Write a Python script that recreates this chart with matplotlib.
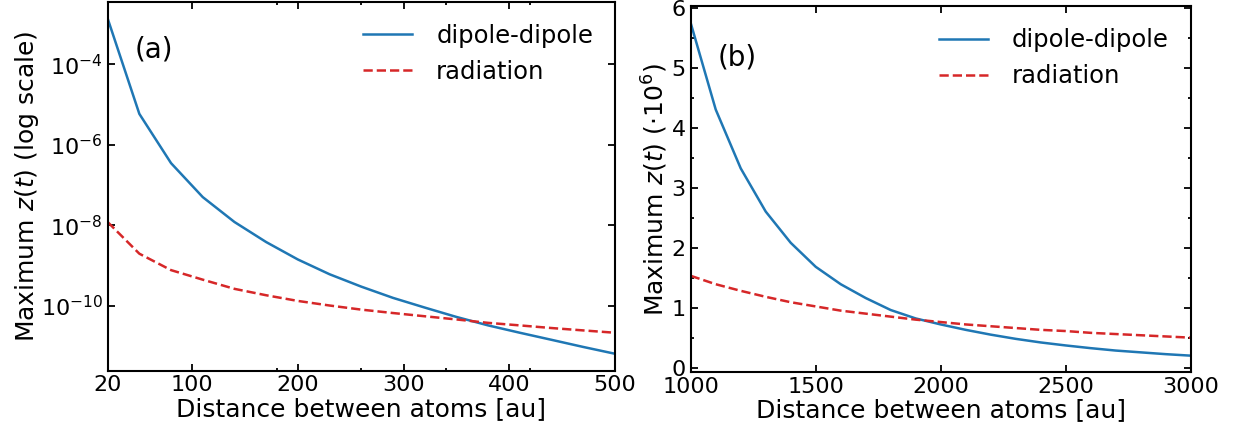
import numpy as np
import matplotlib
matplotlib.use('Agg')
import matplotlib.pyplot as plt
from matplotlib.ticker import FixedLocator, NullLocator, AutoMinorLocator

plt.rcParams['font.family'] = ['DejaVu Sans']
plt.rcParams['axes.linewidth'] = 1.5
plt.rcParams['xtick.direction'] = 'in'
plt.rcParams['ytick.direction'] = 'in'

# short distances, log scale
dist_short = [20, 50, 80, 110, 140, 170, 200, 230, 260, 290, 320, 350, 380, 410, 440, 470, 500]
dd_short = [1.4e-3, 5.9e-6, 3.5e-7, 5.0e-8, 1.2e-8, 3.8e-9, 1.4e-9, 6.0e-10, 2.95e-10,
            1.55e-10, 8.9e-11, 5.2e-11, 3.2e-11, 2.1e-11, 1.4e-11, 9.3e-12, 6.3e-12]
rad_short = [1.2e-8, 1.95e-9, 7.6e-10, 4.4e-10, 2.6e-10, 1.8e-10, 1.3e-10, 1.0e-10, 7.9e-11,
             6.5e-11, 5.4e-11, 4.5e-11, 3.7e-11, 3.2e-11, 2.75e-11, 2.4e-11, 2.1e-11]

# long distances, in units of 1e-6
dist_long = [1000, 1100, 1200, 1300, 1400, 1500, 1600, 1700, 1800, 1900, 2000,
             2100, 2200, 2300, 2400, 2500, 2600, 2700, 2800, 2900, 3000]
dd_long = [5.75, 4.31, 3.33, 2.61, 2.09, 1.69, 1.40, 1.17, 0.97, 0.83, 0.73,
           0.64, 0.56, 0.49, 0.43, 0.38, 0.335, 0.295, 0.265, 0.235, 0.21]
rad_long = [1.54, 1.40, 1.29, 1.19, 1.10, 1.03, 0.96, 0.91, 0.86, 0.81, 0.77,
            0.73, 0.70, 0.67, 0.64, 0.62, 0.59, 0.57, 0.55, 0.53, 0.51]

tick_fs = 16
label_fs = 18
leg_fs = 17.5
lw = 1.8

fig = plt.figure(figsize=(12.33, 4.34), dpi=100)
ax1 = fig.add_axes([0.0873, 0.1463, 0.4114, 0.8498])
ax2 = fig.add_axes([0.5602, 0.1422, 0.4055, 0.8429])

# (a)
ax1.semilogy(dist_short, dd_short, color='C0', lw=lw, label='dipole-dipole')
ax1.semilogy(dist_short, rad_short, color='C3', lw=lw, ls='--', label='radiation')
ax1.set_xlim(20, 500)
ax1.set_xticks([20, 100, 200, 300, 400, 500])
ax1.xaxis.set_minor_locator(FixedLocator([180, 260, 340, 420]))
ax1.yaxis.set_major_locator(FixedLocator([1e-4, 1e-6, 1e-8, 1e-10]))
ax1.yaxis.set_minor_locator(NullLocator())
ax1.set_xlabel('Distance between atoms [au]', fontsize=label_fs, labelpad=1)
ax1.set_ylabel('Maximum $z(t)$ (log scale)', fontsize=label_fs, labelpad=0)
ax1.text(0.054, 0.87, '(a)', transform=ax1.transAxes, fontsize=20, va='center')
ax1.legend(loc='upper right', frameon=False, fontsize=leg_fs, handletextpad=1.0)

# (b)
ax2.plot(dist_long, dd_long, color='C0', lw=lw, label='dipole-dipole')
ax2.plot(dist_long, rad_long, color='C3', lw=lw, ls='--', label='radiation')
ax2.set_xlim(1000, 3000)
ax2.set_xticks([1000, 1500, 2000, 2500, 3000])
ax2.yaxis.set_minor_locator(AutoMinorLocator(2))
ax2.set_xlabel('Distance between atoms [au]', fontsize=label_fs, labelpad=1)
ax2.set_ylabel(r'Maximum $z(t)$ $(\cdot 10^6)$', fontsize=label_fs, labelpad=1)
ax2.text(0.053, 0.86, '(b)', transform=ax2.transAxes, fontsize=20, va='center')
ax2.legend(loc='upper right', frameon=False, fontsize=leg_fs, handletextpad=1.0)

for ax in (ax1, ax2):
    ax.tick_params(which='both', top=True, right=True, labelsize=tick_fs, width=1.3)
    ax.tick_params(which='major', length=5)
    ax.tick_params(which='minor', length=2.5)

fig.savefig('out.png', dpi=100)
